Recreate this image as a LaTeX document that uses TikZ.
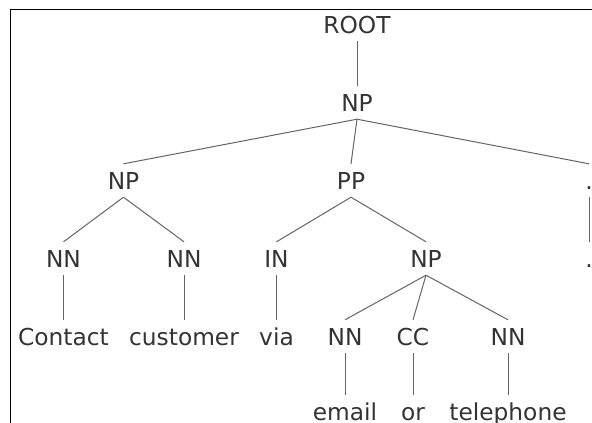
\documentclass[tikz,border=0pt]{standalone}
\usepackage{fontspec}
\setmainfont{DejaVu Sans}
\definecolor{textc}{RGB}{51,51,51}
\definecolor{edgec}{RGB}{100,100,100}
\begin{document}
\begin{tikzpicture}[x=1pt,y=-1pt,
  lbl/.style={font=\fontsize{23.3}{28}\selectfont, text=textc, inner xsep=0pt, inner ysep=8pt,
              text height=17pt, text depth=0pt, anchor=base},
  edge/.style={draw=edgec, line width=1pt},
  frame/.style={draw=black, line width=1.5pt}]
\useasboundingbox (0,0) rectangle (592,423);
% frame (cropped window)
\draw[frame] (592,9.5) -- (10.5,9.5) -- (10.5,423);
% level 0
\node[lbl] (root) at (357,33) {ROOT};
% level 1
\node[lbl] (np1) at (357,111) {NP};
% level 2
\node[lbl] (np2) at (123.5,189) {NP};
\node[lbl] (pp) at (351,189) {PP};
\node[lbl] (dottag) at (589,189) {.};
% level 3
\node[lbl] (nn1) at (63.5,267) {NN};
\node[lbl] (nn2) at (184,267) {NN};
\node[lbl] (in) at (276.5,267) {IN};
\node[lbl] (np3) at (426,267) {NP};
\node[lbl] (dotword) at (589,267) {.};
% level 4
\node[lbl] (w1) at (63.5,345) {Contact};
\node[lbl] (w2) at (184,345) {customer};
\node[lbl] (w3) at (276.5,345) {via};
\node[lbl] (nn3) at (345,345) {NN};
\node[lbl] (cc) at (413,345) {CC};
\node[lbl] (nn4) at (508,345) {NN};
% level 5
\node[lbl] (w4) at (345,420.5) {email};
\node[lbl] (w5) at (413,420.5) {or};
\node[lbl] (w6) at (508,420.5) {telephone};
% edges
\draw[edge] (root.south) -- (np1.north);
\draw[edge] (np1.south) -- (np2.north);
\draw[edge] (np1.south) -- (pp.north);
\draw[edge] (np1.south) -- (dottag.north);
\draw[edge] (np2.south) -- (nn1.north);
\draw[edge] (np2.south) -- (nn2.north);
\draw[edge] (pp.south) -- (in.north);
\draw[edge] (pp.south) -- (np3.north);
\draw[edge] (dottag.south) -- (dotword.north);
\draw[edge] (nn1.south) -- (w1.north);
\draw[edge] (nn2.south) -- (w2.north);
\draw[edge] (in.south) -- (w3.north);
\draw[edge] (np3.south) -- (nn3.north);
\draw[edge] (np3.south) -- (cc.north);
\draw[edge] (np3.south) -- (nn4.north);
\draw[edge] (nn3.south) -- (w4.north);
\draw[edge] (cc.south) -- (w5.north);
\draw[edge] (nn4.south) -- (w6.north);
\end{tikzpicture}
\end{document}
